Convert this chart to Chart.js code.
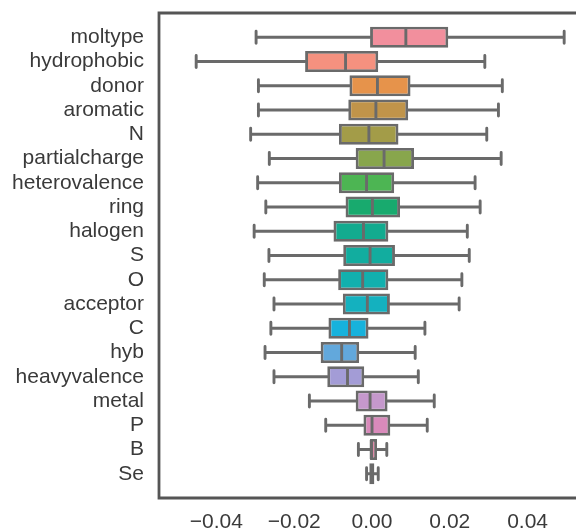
<!DOCTYPE html>
<html>
<head>
<meta charset="utf-8">
<script src="https://cdn.jsdelivr.net/npm/chart.js@4/dist/chart.umd.min.js"></script>
<style>
  html, body { margin: 0; padding: 0; background: #fff; }
  #wrap { width: 576px; height: 530px; }
</style>
</head>
<body>
<div id="wrap"><canvas id="boxChart" width="576" height="530"></canvas></div>
<script>
const categories = ['moltype', 'hydrophobic', 'donor', 'aromatic', 'N', 'partialcharge',
    'heterovalence', 'ring', 'halogen', 'S', 'O', 'acceptor', 'C', 'hyb',
    'heavyvalence', 'metal', 'P', 'B', 'Se'];

// five-number summaries
const whiskerLow  = [-0.0298, -0.0452, -0.0292, -0.0292, -0.0312, -0.0264, -0.0294, -0.0273, -0.0303, -0.0265, -0.0277, -0.0252, -0.0260, -0.0275, -0.0252, -0.0161, -0.0119, -0.0035, -0.0014];
const q1          = [-0.0005, -0.0172, -0.0058, -0.0061, -0.0085, -0.0042, -0.0085, -0.0068, -0.0099, -0.0074, -0.0087, -0.0075, -0.0112, -0.0132, -0.0115, -0.0042, -0.0022, -0.0005, -0.0007];
const medians     = [ 0.0087, -0.0068,  0.0014,  0.0010, -0.0008,  0.0031, -0.0014,  0.0001, -0.0022, -0.0005, -0.0024, -0.0012, -0.0058, -0.0078, -0.0063, -0.0005,  0.0000, -0.0002,  0.0000];
const q3          = [ 0.0196,  0.0016,  0.0099,  0.0093,  0.0068,  0.0108,  0.0057,  0.0072,  0.0042,  0.0059,  0.0042,  0.0046, -0.0009, -0.0033, -0.0020,  0.0040,  0.0047,  0.0013,  0.0006];
const whiskerHigh = [ 0.0494,  0.0290,  0.0335,  0.0325,  0.0295,  0.0332,  0.0265,  0.0278,  0.0245,  0.0250,  0.0231,  0.0224,  0.0136,  0.0111,  0.0119,  0.0160,  0.0142,  0.0038,  0.0016];

const xTicks = [-0.04, -0.02, 0, 0.02, 0.04];
const xTickLabels = ['\u22120.04', '\u22120.02', '0.00', '0.02', '0.04'];

const boxColors = ['#f28f9d', '#f5917f', '#e6934b', '#c0944a', '#a39c48', '#88a64c',
    '#4db553', '#18aa6e', '#12ab8f', '#12ad9f', '#12b0ae', '#14b1bf', '#17b2dc',
    '#62a8dc', '#a39cd6', '#c598cc', '#d98abb', '#e08aa8', '#e58c9a'];

const lineGray = '#6a6a6a';
const spineGray = '#555555';
const tickFont = { family: "'Liberation Sans', Arial, sans-serif", size: 21 };

// whiskers + caps behind boxes, medians on top, spines last
const boxplotExtras = {
    id: 'boxplotExtras',
    beforeDatasetsDraw(chart) {
        const { ctx, scales: { x, y } } = chart;
        ctx.save();
        ctx.strokeStyle = lineGray;
        ctx.lineWidth = 2.9;
        ctx.lineCap = 'round';
        categories.forEach((_, i) => {
            const cy = y.getPixelForValue(i);
            const capH = Math.abs(y.getPixelForValue(i + 0.25) - cy);
            const lo = x.getPixelForValue(whiskerLow[i]);
            const hi = x.getPixelForValue(whiskerHigh[i]);
            const a = x.getPixelForValue(q1[i]);
            const b = x.getPixelForValue(q3[i]);
            ctx.beginPath();
            ctx.moveTo(lo, cy); ctx.lineTo(a, cy);
            ctx.moveTo(b, cy); ctx.lineTo(hi, cy);
            ctx.moveTo(lo, cy - capH); ctx.lineTo(lo, cy + capH);
            ctx.moveTo(hi, cy - capH); ctx.lineTo(hi, cy + capH);
            ctx.stroke();
        });
        ctx.restore();
    },
    afterDatasetsDraw(chart) {
        const { ctx, scales: { x } } = chart;
        const meta = chart.getDatasetMeta(0);
        ctx.save();
        ctx.strokeStyle = lineGray;
        ctx.lineWidth = 2.9;
        meta.data.forEach((bar, i) => {
            const { y: by, height } = bar.getProps(['y', 'height'], true);
            const mx = x.getPixelForValue(medians[i]);
            ctx.beginPath();
            ctx.moveTo(mx, by - height / 2 + 1);
            ctx.lineTo(mx, by + height / 2 - 1);
            ctx.stroke();
        });
        ctx.restore();
    },
    afterDraw(chart) {
        const { ctx, chartArea: { left, top, right, bottom } } = chart;
        ctx.save();
        ctx.strokeStyle = spineGray;
        ctx.lineWidth = 2.8;
        ctx.beginPath();
        ctx.moveTo(right + 5, top);
        ctx.lineTo(left, top);
        ctx.lineTo(left, bottom);
        ctx.lineTo(right + 5, bottom);
        ctx.stroke();
        ctx.restore();
    }
};

const ctx = document.getElementById('boxChart').getContext('2d');

new Chart(ctx, {
    type: 'bar',
    data: {
        datasets: [{
            data: categories.map((c, i) => ({ y: i, x: [q1[i], q3[i]] })),
            backgroundColor: boxColors,
            borderColor: lineGray,
            borderWidth: 2.9,
            borderSkipped: false,
            barPercentage: 1,
            categoryPercentage: 0.87
        }]
    },
    options: {
        indexAxis: 'y',
        responsive: false,
        animation: false,
        layout: { padding: { top: 13, right: 0, left: 0, bottom: 0 } },
        scales: {
            x: {
                type: 'linear',
                min: -0.05476,
                max: 0.05244,
                grid: { display: false, drawTicks: false },
                border: { display: false },
                afterFit(scale) {
                    scale.height = 32;
                    scale.paddingLeft = 0;
                    scale.paddingRight = 0;
                },
                afterBuildTicks(scale) { scale.ticks = xTicks.map(v => ({ value: v })); },
                ticks: {
                    padding: 12,
                    color: '#3a3a3a',
                    font: tickFont,
                    autoSkip: false,
                    callback: (v) => xTickLabels[xTicks.indexOf(v)],
                    maxRotation: 0
                }
            },
            y: {
                type: 'linear',
                min: -1,
                max: 19,
                offset: false, // bar charts pad the index axis by default
                reverse: true,
                grid: { display: false, drawTicks: false, offset: false },
                border: { display: false },
                afterFit(scale) {
                    scale.width = 159;
                    scale.paddingTop = 0;
                    scale.paddingBottom = 0;
                },
                afterBuildTicks(scale) { scale.ticks = categories.map((_, i) => ({ value: i })); },
                ticks: {
                    padding: 15,
                    color: '#3a3a3a',
                    font: tickFont,
                    autoSkip: false,
                    callback: (v) => categories[v]
                }
            }
        },
        plugins: {
            legend: { display: false },
            tooltip: { enabled: false }
        }
    },
    plugins: [boxplotExtras]
});
</script>
</body>
</html>
